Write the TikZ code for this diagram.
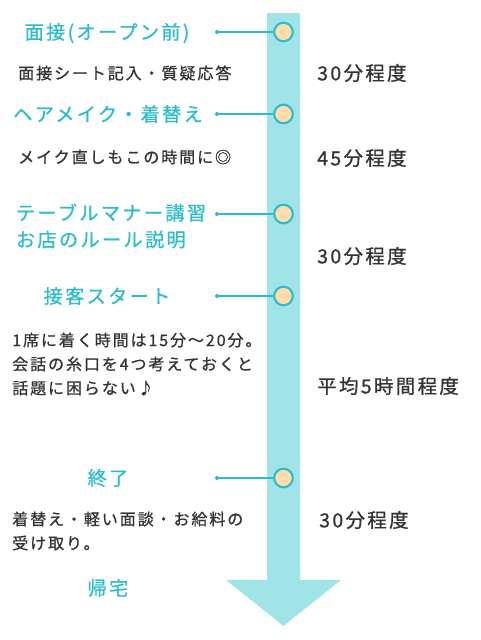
\documentclass[tikz,border=0pt]{standalone}
\usepackage{fontspec}
\usepackage{xcolor}
\usepackage{tikz}
\usetikzlibrary{positioning}
\setmainfont{Noto Sans CJK JP}[LetterSpace=12,FakeBold=0.8]
\definecolor{flowTeal}{HTML}{2DBDC9}
\definecolor{flowArrow}{HTML}{A0E4E8}
\definecolor{flowPeach}{HTML}{FFDCAA}
\definecolor{flowInk}{HTML}{333333}

\tikzset{
  stagehead/.style={text=flowTeal,font=\fontsize{14.4}{20}\selectfont,inner sep=0pt},
  stagenote/.style={text=flowInk,font=\fontsize{12}{18}\selectfont,anchor=west,align=left,inner sep=0pt},
  stagetime/.style={text=flowInk,font=\fontsize{14.6}{18}\selectfont,anchor=west,inner sep=0pt},
  stagedot/.style={circle,draw=flowTeal,line width=1.6pt,fill=flowPeach,minimum size=14pt,inner sep=0pt},
  stagelink/.style={flowTeal,line width=1.2pt}
}

\begin{document}
\begin{tikzpicture}[x=0.75pt,y=-0.75pt]
  \useasboundingbox (0,0) rectangle (480,640);
  % big arrow down the middle
  \fill[flowArrow] (267,13) -- (300,13) -- (300,580) -- (341,580) -- (283.5,626) -- (226,580) -- (267,580) -- cycle;

  \node[stagedot] (s1) at (283.5,32) {};
  \node[stagedot] (s2) at (283.5,114) {};
  \node[stagedot] (s3) at (283.5,214) {};
  \node[stagedot] (s4) at (283.5,296) {};
  \node[stagedot] (s5) at (283.5,478) {};

  \coordinate (c1) at (217,32);
  \coordinate (c2) at (217,114);
  \coordinate (c3) at (217,214);
  \coordinate (c4) at (217,296);
  \coordinate (c5) at (217,478);
  \foreach \i in {1,...,5} {
    \fill[flowTeal] (c\i) circle (2);
    \draw[stagelink] (c\i) -- (s\i);
  }

  % stages
  \node[stagehead] (h1) at (107,33) {面接(オープン前)};
  \node[stagehead] (h2) at (108,114) {ヘアメイク・着替え};
  \node[stagehead,align=left] (h3) at (111,226) {テーブルマナー講習\\お店のルール説明};
  \node[stagehead] (h4) at (107,296) {接客スタート};
  \node[stagehead] (h5) at (108,478) {終了};
  \node[stagehead] (h6) at (108,588) {帰宅};

  % notes
  \node[stagenote] (n1) at (18,73) {面接シート記入・質疑応答};
  \node[stagenote] (n2) at (18,157) {メイク直しもこの時間に◎};
  \node[stagenote] (n3) at (12,364) {1席に着く時間は15分～20分。\\会話の糸口を4つ考えておくと\\話題に困らない♪};
  \node[stagenote] (n4) at (12,531) {着替え・軽い面談・お給料の\\受け取り。};

  % times
  \node[stagetime] (t1) at (317,73) {30分程度};
  \node[stagetime] (t2) at (317,158) {45分程度};
  \node[stagetime] (t3) at (317,256) {30分程度};
  \node[stagetime] (t4) at (317,386) {平均5時間程度};
  \node[stagetime] (t5) at (319,520) {30分程度};
\end{tikzpicture}
\end{document}
